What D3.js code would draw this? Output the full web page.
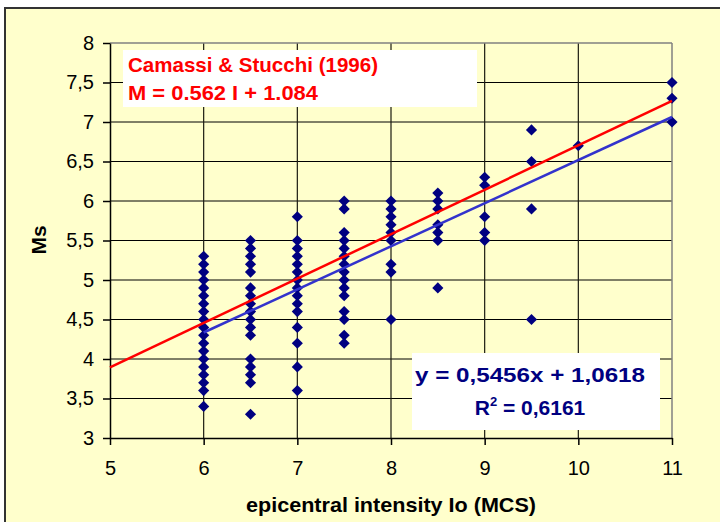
<!DOCTYPE html>
<html>
<head>
<meta charset="utf-8">
<script src="https://cdn.jsdelivr.net/npm/d3@7"></script>
<style>
  html, body { margin: 0; padding: 0; background: #ffffff; }
  svg { display: block; font-family: "Liberation Sans", Arial, sans-serif; }
</style>
</head>
<body>
<svg id="chart" width="720" height="522"></svg>
<script>
// Epicentral intensity classes (MCS) and the surface-wave magnitudes observed in each
const intensityLevels = [6, 6.5, 7, 7.5, 8, 8.5, 9, 9.5, 10, 11];
const msByIntensity = [
  [5.3, 5.2, 5.1, 5.0, 4.9, 4.8, 4.7, 4.6, 4.5, 4.4, 4.3, 4.2, 4.1, 4.0, 3.9, 3.8, 3.7, 3.6, 3.4],
  [5.5, 5.4, 5.3, 5.2, 5.1, 4.9, 4.8, 4.7, 4.6, 4.5, 4.4, 4.3, 4.0, 3.9, 3.8, 3.7, 3.3],
  [5.8, 5.5, 5.4, 5.3, 5.2, 5.1, 5.0, 4.9, 4.8, 4.7, 4.6, 4.4, 4.2, 3.9, 3.6],
  [6.0, 5.9, 5.6, 5.5, 5.4, 5.3, 5.2, 5.1, 5.0, 4.9, 4.8, 4.6, 4.5, 4.3, 4.2],
  [6.0, 5.9, 5.8, 5.7, 5.6, 5.5, 5.2, 5.1, 4.5],
  [6.1, 6.0, 5.9, 5.7, 5.6, 5.5, 4.9],
  [6.3, 6.2, 5.8, 5.6, 5.5],
  [6.9, 6.5, 5.9, 4.5],
  [6.7],
  [7.5, 7.3, 7.0]
];

// Axis ticks
const xTicks = [5, 6, 7, 8, 9, 10, 11];
const yTicks = [3, 3.5, 4, 4.5, 5, 5.5, 6, 6.5, 7, 7.5, 8];
const yTickLabels = ["3", "3,5", "4", "4,5", "5", "5,5", "6", "6,5", "7", "7,5", "8"];

// Relations: published (Camassi & Stucchi 1996) and least-squares fit of these data
const camassiSlope = 0.562, camassiIntercept = 1.084, camassiRange = [5, 11];
const fitSlope = 0.5456, fitIntercept = 1.0618, fitR2 = 0.6161, fitRange = [6, 11];

const svg = d3.select("#chart");
const W = 720, H = 522;
const plot = { left: 110, right: 672, top: 43, bottom: 438 };
const bg = "#FFFFCC";

const x = d3.scaleLinear().domain([5, 11]).range([plot.left, plot.right]);
const y = d3.scaleLinear().domain([3, 8]).range([plot.bottom, plot.top]);

// Chart frame
svg.append("rect").attr("width", W).attr("height", H).attr("fill", "#ffffff");
svg.append("rect")
  .attr("x", 5).attr("y", 8).attr("width", W + 20).attr("height", H + 20)
  .attr("fill", bg).attr("stroke", "#333").attr("stroke-width", 2);

// Gridlines
const grid = svg.append("g");
grid.selectAll("line.h").data(yTicks.filter(v => v > 3 && v < 8)).join("line")
  .attr("x1", plot.left).attr("x2", plot.right)
  .attr("y1", d => y(d)).attr("y2", d => y(d))
  .attr("stroke", "#000").attr("stroke-width", 1);
grid.selectAll("line.v").data(xTicks.filter(v => v > 5 && v < 11)).join("line")
  .attr("x1", d => x(d)).attr("x2", d => x(d))
  .attr("y1", plot.top).attr("y2", plot.bottom)
  .attr("stroke", "#1a1a10").attr("stroke-width", 1.2);
// Plot border (top and right)
grid.append("line").attr("x1", plot.left).attr("x2", plot.right)
  .attr("y1", plot.top).attr("y2", plot.top).attr("stroke", "#808080").attr("stroke-width", 1.5);
grid.append("line").attr("x1", plot.right).attr("x2", plot.right)
  .attr("y1", plot.top).attr("y2", plot.bottom).attr("stroke", "#808080").attr("stroke-width", 1.5);

// Axes
const yAxis = svg.append("g").attr("transform", `translate(${plot.left},0)`)
  .call(d3.axisLeft(y).tickValues(yTicks).tickFormat((d, i) => yTickLabels[i])
    .tickSizeInner(7).tickSizeOuter(0).tickPadding(9));
const xAxis = svg.append("g").attr("transform", `translate(0,${plot.bottom})`)
  .call(d3.axisBottom(x).tickValues(xTicks).tickFormat(d3.format("d"))
    .tickSizeInner(7).tickSizeOuter(0).tickPadding(16));
[yAxis, xAxis].forEach(g => {
  g.select(".domain").attr("stroke", "#000").attr("stroke-width", 1.5);
  g.selectAll(".tick line").attr("stroke", "#000").attr("stroke-width", 1.5);
  g.selectAll(".tick text").attr("fill", "#000").style("font-size", "20px")
    .style("font-family", "'Liberation Sans', Arial, sans-serif");
});

// Observations
const points = intensityLevels.flatMap((lv, i) => msByIntensity[i].map(ms => ({ lv, ms })));
const diamond = d3.symbol(d3.symbolSquare, 62)();
svg.append("g").selectAll("path").data(points).join("path")
  .attr("d", diamond)
  .attr("transform", d => `translate(${x(d.lv)},${y(d.ms)}) rotate(45)`)
  .attr("fill", "#000080");

// Regression lines
const line = d3.line().x(d => x(d[0])).y(d => y(d[1]));
svg.append("path")
  .datum(camassiRange.map(v => [v, camassiSlope * v + camassiIntercept]))
  .attr("d", line).attr("fill", "none").attr("stroke", "#FF0000").attr("stroke-width", 2.5);
svg.append("path")
  .datum(fitRange.map(v => [v, fitSlope * v + fitIntercept]))
  .attr("d", line).attr("fill", "none").attr("stroke", "#3333CC").attr("stroke-width", 2.5);

// Label boxes
const fmtComma = v => String(v).replace(".", ",");
const box1 = svg.append("g");
box1.append("rect").attr("x", 123).attr("y", 50).attr("width", 354).attr("height", 57).attr("fill", "#fff");
box1.append("text").attr("x", 128).attr("y", 72)
  .attr("fill", "#FF0000").attr("font-weight", "bold").style("font-size", "21px")
  .attr("textLength", 250).attr("lengthAdjust", "spacingAndGlyphs")
  .text("Camassi & Stucchi (1996)");
box1.append("text").attr("x", 128).attr("y", 100)
  .attr("fill", "#FF0000").attr("font-weight", "bold").style("font-size", "21px")
  .attr("textLength", 190).attr("lengthAdjust", "spacingAndGlyphs")
  .text(`M = ${camassiSlope} I + ${camassiIntercept}`);

const box2 = svg.append("g");
box2.append("rect").attr("x", 412).attr("y", 353).attr("width", 248).attr("height", 77).attr("fill", "#fff");
box2.append("text").attr("x", 530).attr("y", 382).attr("text-anchor", "middle")
  .attr("fill", "#000080").attr("font-weight", "bold").style("font-size", "21px")
  .attr("textLength", 230).attr("lengthAdjust", "spacingAndGlyphs")
  .text(`y = ${fmtComma(fitSlope)}x + ${fmtComma(fitIntercept)}`);
const r2 = box2.append("text").attr("x", 530).attr("y", 415).attr("text-anchor", "middle")
  .attr("fill", "#000080").attr("font-weight", "bold").style("font-size", "21px");
r2.append("tspan").text("R");
r2.append("tspan").attr("dy", -9).style("font-size", "13px").text("2");
r2.append("tspan").attr("dy", 9).text(` = ${fmtComma(fitR2)}`);

// Axis titles
svg.append("text").attr("x", 391).attr("y", 512).attr("text-anchor", "middle")
  .attr("font-weight", "bold").style("font-size", "21px").attr("fill", "#000")
  .attr("textLength", 290).attr("lengthAdjust", "spacingAndGlyphs")
  .text("epicentral intensity Io (MCS)");
svg.append("text").attr("transform", `translate(46,240) rotate(-90)`).attr("text-anchor", "middle")
  .attr("font-weight", "bold").style("font-size", "21px").attr("fill", "#000")
  .text("Ms");
</script>
</body>
</html>
